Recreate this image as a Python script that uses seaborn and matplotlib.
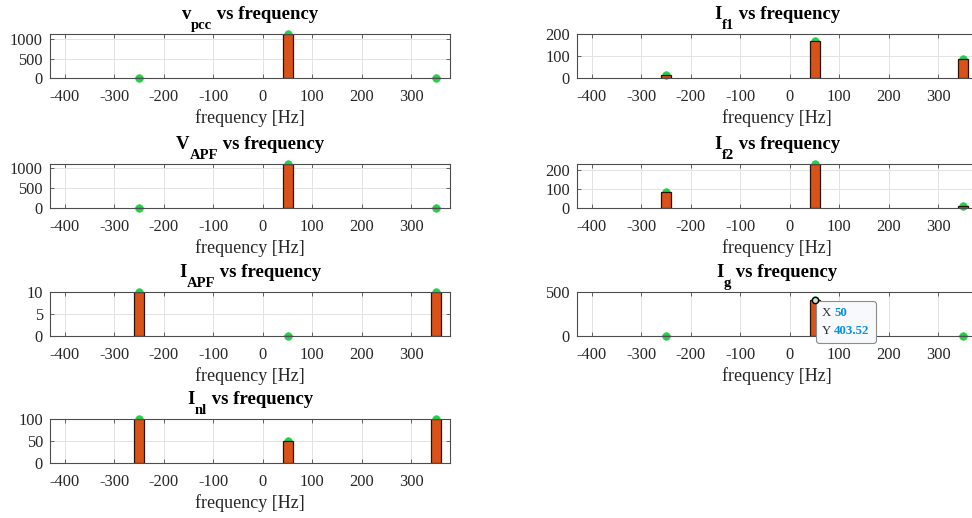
import numpy as np
import pandas as pd
import matplotlib
matplotlib.use("Agg")
import matplotlib.pyplot as plt
import seaborn as sns
from matplotlib.offsetbox import TextArea, HPacker, VPacker, AnnotationBbox

# Harmonic spectrum of each signal (frequency in Hz, magnitude)
freqs = [-250, 50, 350]
v_pcc = [0, 1120, 0]
v_apf = [3, 1120, 3]
i_apf = [10, 0, 10]
i_nl = [100, 50, 100]
i_f1 = [16, 168, 86]
i_f2 = [84, 231, 11]
i_g = [0, 403.52, 0]

x_ticks = [-400, -300, -200, -100, 0, 100, 200, 300]

panels = [
    # (values, symbol, subscript, yticks, ylim top, column, row)
    (v_pcc, "v", "pcc", [0, 500, 1000], 1120, 0, 0),
    (v_apf, "V", "APF", [0, 500, 1000], 1120, 0, 1),
    (i_apf, "I", "APF", [0, 5, 10], 10, 0, 2),
    (i_nl, "I", "nl", [0, 50, 100], 100, 0, 3),
    (i_f1, "I", "f1", [0, 100, 200], 200, 1, 0),
    (i_f2, "I", "f2", [0, 100, 200], 231, 1, 1),
    (i_g, "I", "g", [0, 500], 500, 1, 2),
]

sns.set_theme(style="white")
plt.rcParams["font.family"] = ["Liberation Serif", "DejaVu Serif"]
plt.rcParams["axes.unicode_minus"] = False

W, H = 972, 518
fig = plt.figure(figsize=(W / 100, H / 100), dpi=100)

col_left = [50, 577]
row_top = [34.3, 163.7, 292.0, 419.3]
ax_w, ax_h = 400, 44

bar_color = "#D95319"
dot_color = "#22D04A"
axis_color = "#262626"

axes = {}
title_parts = []
for values, sym, sub, yticks, ytop, col, row in panels:
    left = col_left[col] / W
    bottom = 1 - (row_top[row] + ax_h) / H
    ax = fig.add_axes([left, bottom, ax_w / W, ax_h / H])
    df = pd.DataFrame({"freq": freqs, "mag": values})

    sns.scatterplot(data=df, x="freq", y="mag", ax=ax, color=dot_color,
                    s=30, edgecolor=dot_color, linewidth=0.5, zorder=2,
                    clip_on=False, legend=False)
    sns.barplot(data=df, x="freq", y="mag", ax=ax, native_scale=True,
                width=20 / 300, color=bar_color, saturation=1,
                edgecolor="#2a1208", linewidth=0.9, errorbar=None, zorder=3)

    ax.set_xlim(-430, 378)
    ax.set_ylim(0, ytop)
    ax.set_xticks(x_ticks)
    ax.set_xticklabels([str(t) for t in x_ticks])
    ax.set_yticks(yticks)
    ax.set_yticklabels([str(t) for t in yticks])
    ax.grid(True, color="#e3e3e3", linewidth=0.7, zorder=0)
    ax.set_axisbelow(True)
    for sp in ax.spines.values():
        sp.set_color("#4d4d4d")
        sp.set_linewidth(0.8)
        sp.set_zorder(4)
    ax.tick_params(axis="both", direction="in", length=3, width=0.6,
                   colors="#4d4d4d", labelcolor=axis_color, labelsize=11.8,
                   top=True, right=True, bottom=True, left=True)
    ax.tick_params(axis="x", pad=8)
    ax.tick_params(axis="y", pad=5)
    ax.set_xlabel("frequency [Hz]", fontsize=13, color=axis_color, labelpad=3)
    ax.set_ylabel("")

    # Title built from pieces so the subscript sits low, TeX-style
    pieces = []
    for txt, size, dy in [(sym, 13.5, 15), (sub, 10.5, 5),
                          (" vs frequency", 13.5, 15)]:
        t = ax.annotate(txt, xy=(0.5, 1.0), xycoords="axes fraction",
                        xytext=(0, dy), textcoords="offset pixels",
                        ha="left", va="baseline", fontsize=size,
                        fontweight="bold", color="black",
                        annotation_clip=False)
        pieces.append((t, dy))
    title_parts.append(pieces)
    axes[(col, row)] = ax

# Center each composed title over its axes
renderer = fig.canvas.get_renderer()
for pieces in title_parts:
    widths = [t.get_window_extent(renderer).width for t, _ in pieces]
    x = -sum(widths) / 2
    for (t, dy), w in zip(pieces, widths):
        t.xyann = (x, dy)
        x += w

# Data tip on the grid-current fundamental
ax_g = axes[(1, 2)]
tip_x, tip_y = freqs[1], i_g[1]
ax_g.plot([tip_x], [tip_y], marker="o", ms=4.5, mfc="#d9d9d9", mec="black",
          mew=1.0, zorder=6, clip_on=False)

lab_props = dict(color="#333333", size=9.3, family="Liberation Serif")
val_props = dict(color="#0a8fe6", size=9.3, family="Liberation Serif",
                 weight="bold")
row_x = HPacker(children=[TextArea("X ", textprops=lab_props),
                          TextArea(f"{tip_x:g}", textprops=val_props)],
                align="baseline", pad=0, sep=0)
row_y = HPacker(children=[TextArea("Y ", textprops=lab_props),
                          TextArea(f"{tip_y:.2f}", textprops=val_props)],
                align="baseline", pad=0, sep=0)
tip_box = VPacker(children=[row_x, row_y], align="left", pad=0, sep=4)
ab = AnnotationBbox(tip_box, (tip_x, tip_y), xycoords="data",
                    xybox=(5.5, -5), boxcoords="offset points",
                    box_alignment=(0, 1), pad=0.4, frameon=True,
                    bboxprops=dict(boxstyle="round,pad=0.4,rounding_size=0.2",
                                   fc="#f7f9fc", ec="#8c8c8c", lw=0.8),
                    zorder=5, annotation_clip=False)
ax_g.add_artist(ab)

fig.savefig("out.png", dpi=100)
